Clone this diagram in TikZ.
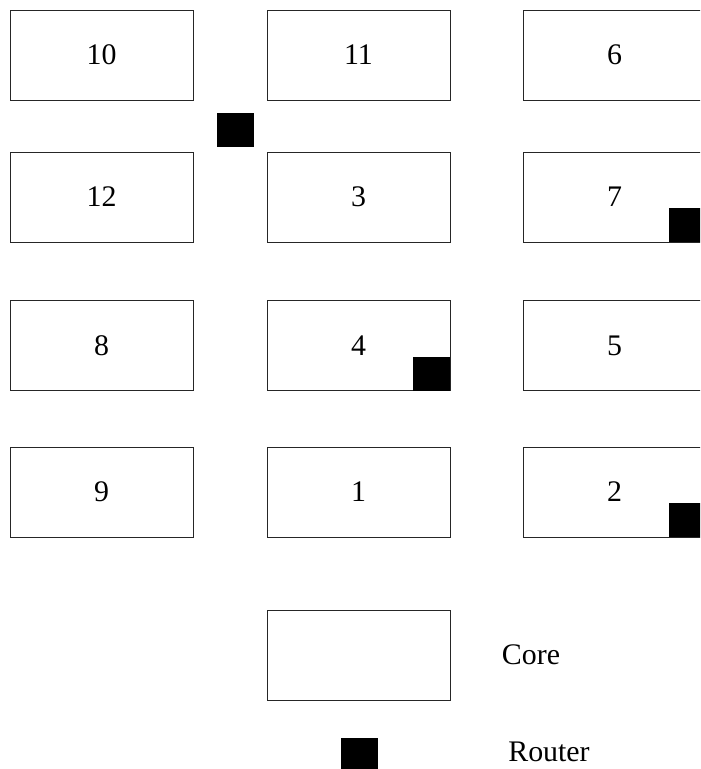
\documentclass[tikz,border=0pt]{standalone}
\usepackage{fontspec}
\setmainfont{Liberation Serif}
\usetikzlibrary{positioning}
\tikzset{
  corebox/.style={
    draw=black!85,
    line width=0.8pt,
    minimum width=5.49cm,
    minimum height=2.7cm,
    inner sep=0pt,
    font=\fontsize{25.5}{30}\selectfont
  },
  routerbox/.style={fill=black, draw=none, minimum width=1.11cm, minimum height=1.02cm, inner sep=0pt},
  legendtext/.style={font=\fontsize{25.5}{30}\selectfont}
}
\begin{document}
\begin{tikzpicture}[x=0.03cm, y=-0.03cm]
  \useasboundingbox (0,0) rectangle (700,769);
  \clip (0,0) rectangle (700,769);
  % cores, row by row
  \node[corebox] (c10) at (101.5,55) {10};
  \node[corebox] (c11) at (358.5,55) {11};
  \node[corebox] (c6)  at (614.5,55) {6};
  \node[corebox] (c12) at (101.5,197) {12};
  \node[corebox] (c3)  at (358.5,197) {3};
  \node[corebox] (c7)  at (614.5,197) {7};
  \node[corebox] (c8)  at (101.5,345.5) {8};
  \node[corebox] (c4)  at (358.5,345.5) {4};
  \node[corebox] (c5)  at (614.5,345.5) {5};
  \node[corebox] (c9)  at (101.5,492) {9};
  \node[corebox] (c1)  at (358.5,492) {1};
  \node[corebox] (c2)  at (614.5,492) {2};
  % routers
  \node[routerbox] (r1) at (235.5,130) {};
  \node[routerbox, anchor=south east] (r4) at (c4.south east) {};
  \node[routerbox, anchor=south east] (r7) at (c7.south east) {};
  \node[routerbox, anchor=south east] (r2) at (c2.south east) {};
  % legend
  \node[corebox] (lcore) at (358.5,655) {};
  \node[legendtext] (tcore) at (531,655) {Core};
  \node[routerbox, anchor=north] (lrouter) at (359.5,738) {};
  \node[legendtext] (trouter) at (549,752) {Router};
\end{tikzpicture}
\end{document}
